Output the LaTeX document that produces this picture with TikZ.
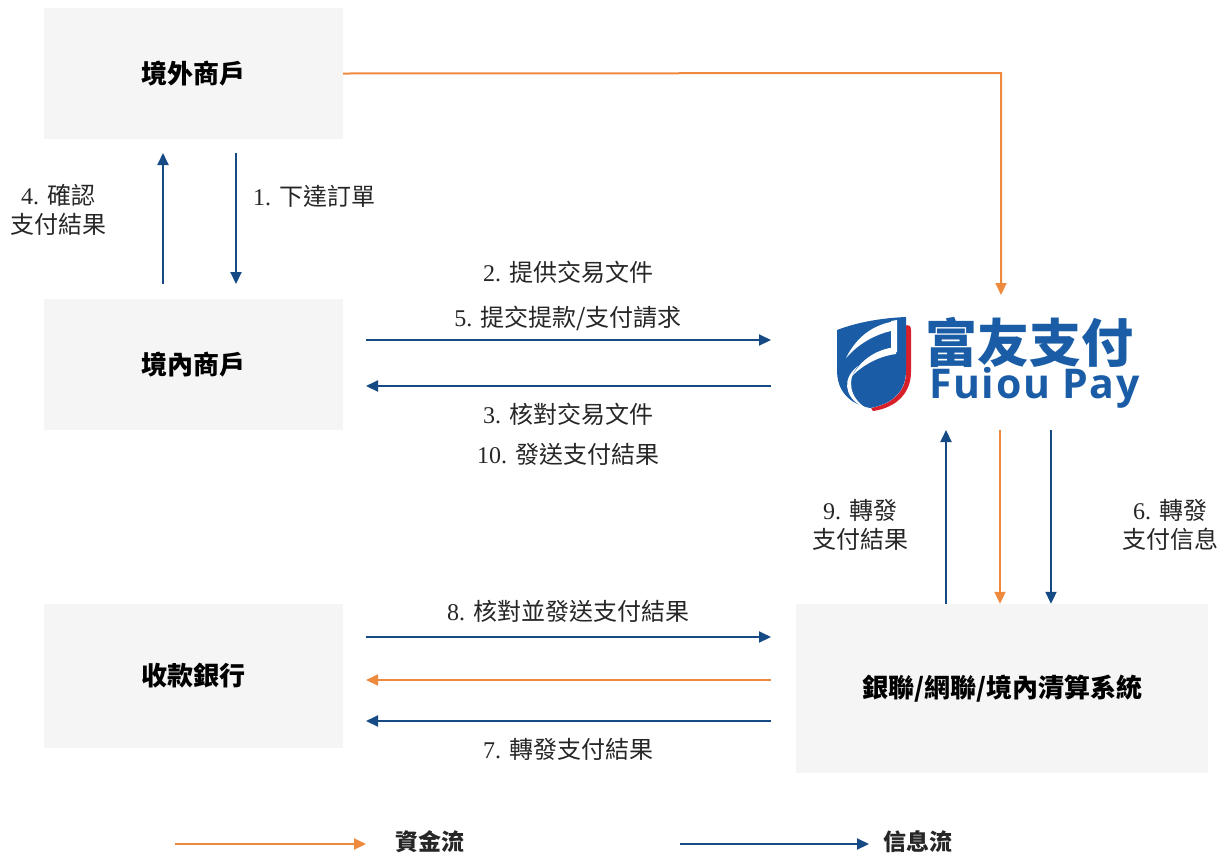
\documentclass[tikz,border=0pt]{standalone}
\usepackage{fontspec}
\setmainfont{Liberation Serif}
\newfontfamily\cjk{Noto Sans CJK TC}
\newfontfamily\logosans[LetterSpace=4]{Open Sans}
\usetikzlibrary{arrows.meta}
\definecolor{fblue}{HTML}{154A85}
\definecolor{forange}{HTML}{EE8A3E}
\definecolor{boxgray}{HTML}{F5F5F5}
\definecolor{logoblue}{HTML}{1A5DA6}
\definecolor{logored}{HTML}{D7202A}
\tikzset{
  ent/.style={fill=boxgray, draw=none, inner sep=0pt, font=\fontsize{26}{30}\selectfont\cjk\bfseries},
  lbl/.style={font=\fontsize{24}{29}\selectfont, text=black!85, inner sep=0pt, align=center},
  info/.style={draw=fblue, line width=2pt, -{Triangle[length=12pt,width=11pt]}},
  money/.style={draw=forange, line width=2pt, -{Triangle[length=12pt,width=11pt]}},
}
\begin{document}
\begin{tikzpicture}[x=1pt,y=-1pt]
\useasboundingbox (0,0) rectangle (1225,855);
% boxes
\node[ent, minimum width=299pt, minimum height=131pt] (ow) at (193.5,73.5) {境外商戶};
\node[ent, minimum width=299pt, minimum height=131pt] (dm) at (193.5,364.5) {境內商戶};
\node[ent, minimum width=299pt, minimum height=144pt] (bk) at (193.5,676) {收款銀行};
\node[ent, minimum width=412pt, minimum height=169pt] (cs) at (1002,688.5) {銀聯/網聯/境內清算系統};
% logo
\begin{scope}
  \fill[logored] (904,326) .. controls (909,324) and (911,326) .. (911,330) -- (911,372)
     .. controls (911,394) and (895,408) .. (873,411) -- (871,408)
     .. controls (892,404) and (906,392) .. (906,372) -- (906,330) -- cycle;
  \fill[logoblue] (837,330) .. controls (858,322) and (882,318) .. (906,317) -- (906,370)
     .. controls (906,392) and (892,404) .. (870,408)
     .. controls (850,404) and (837,392) .. (837,370) -- cycle;
  \fill[white] (846,358) .. controls (858,334) and (876,324) .. (896,321) -- (896,330)
     .. controls (878,333) and (860,342) .. (846,358) -- cycle;
  \fill[white] (891,321) -- (897,320) -- (897,352) -- (891,352) -- cycle;
  \fill[white] (852,376) .. controls (862,358) and (878,349) .. (896,347) -- (896,354)
     .. controls (880,356) and (864,364) .. (852,376) -- cycle;
  \fill[white] (858,366) .. controls (846,380) and (850,398) .. (866,408) -- (861,406)
     .. controls (844,396) and (842,378) .. (858,366) -- cycle;
\end{scope}
\node[anchor=west, inner sep=0pt, text=logoblue, font=\fontsize{52}{56}\selectfont\cjk\bfseries] (logoa) at (925,342) {富友支付};
\node[anchor=west, inner sep=0pt, text=logoblue, font=\fontsize{41}{44}\selectfont\logosans\bfseries] (logob) at (929,388) {Fuiou Pay};
% coordinates for fuiou connections
\coordinate (fuTop) at (1001,295);
\coordinate (fuL1) at (771,340);
\coordinate (fuL2) at (771,386);
\coordinate (fuB1) at (946,430);
\coordinate (fuB2) at (1000,430);
\coordinate (fuB3) at (1051,430);
% arrows
\draw[money] (ow.east) -- (1001,73) -- (fuTop);
\draw[info] (163,284) -- (163,153);
\draw[info] (236,153) -- (236,284);
\draw[info] (366,340) -- (fuL1);
\draw[info] (fuL2) -- (366,386);
\draw[info] (cs.north -| fuB1) -- (fuB1);
\draw[money] (fuB2) -- (cs.north -| fuB2);
\draw[info] (fuB3) -- (cs.north -| fuB3);
\draw[info] (366,637) -- (771,637);
\draw[money] (771,680) -- (366,680);
\draw[info] (771,721) -- (366,721);
% labels
\node[lbl] (l4) at (58,210) {4. {\cjk 確認}\\{\cjk 支付結果}};
\node[lbl, anchor=west] (l1) at (253,196) {1. {\cjk 下達訂單}};
\node[lbl] (l2) at (568,272) {2. {\cjk 提供交易文件}};
\node[lbl] (l5) at (568,318) {5. {\cjk 提交提款/支付請求}};
\node[lbl] (l3) at (568,414) {3. {\cjk 核對交易文件}};
\node[lbl] (l10) at (568,454) {10. {\cjk 發送支付結果}};
\node[lbl] (l9) at (860,525) {9. {\cjk 轉發}\\{\cjk 支付結果}};
\node[lbl] (l6) at (1170,525) {6. {\cjk 轉發}\\{\cjk 支付信息}};
\node[lbl] (l8) at (568,611) {8. {\cjk 核對並發送支付結果}};
\node[lbl] (l7) at (568,749) {7. {\cjk 轉發支付結果}};
% legend
\coordinate (lga) at (175,844);
\coordinate (lgb) at (366,844);
\coordinate (lgc) at (680,844);
\coordinate (lgd) at (869,844);
\draw[money] (lga) -- (lgb);
\draw[info] (lgc) -- (lgd);
\node[lbl, font=\fontsize{23}{26}\selectfont\cjk\bfseries] (lg1) at (430,842) {資金流};
\node[lbl, font=\fontsize{23}{26}\selectfont\cjk\bfseries] (lg2) at (918,842) {信息流};
\end{tikzpicture}
\end{document}
